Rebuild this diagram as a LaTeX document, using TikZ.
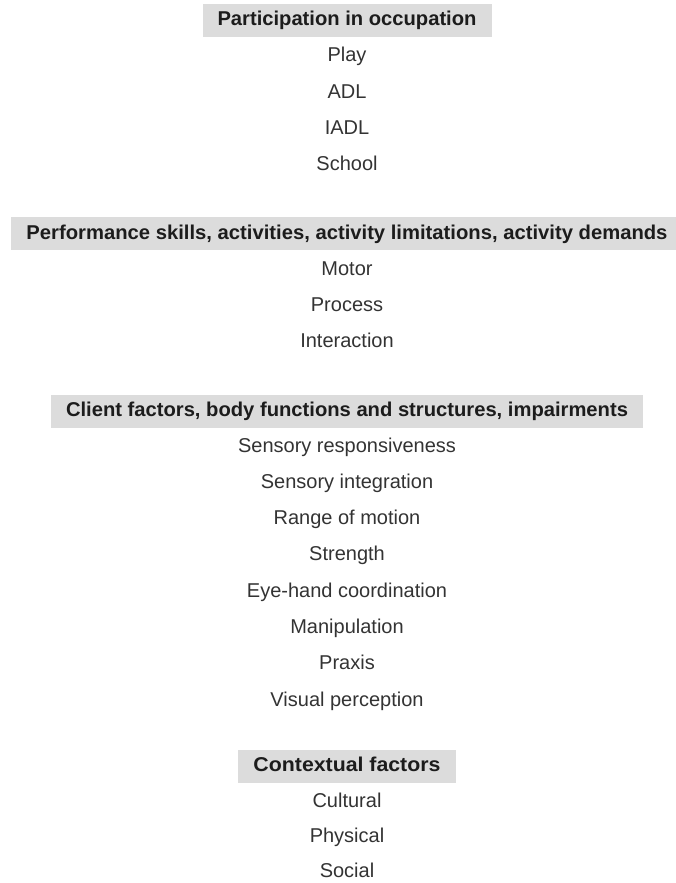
\documentclass[tikz,border=0pt]{standalone}
\usepackage{fontspec}
\setmainfont{Liberation Sans}
\usepackage{graphicx}
\definecolor{headfill}{RGB}{220,220,220}
\definecolor{inktext}{RGB}{28,28,28}
\begin{document}
\begin{tikzpicture}[x=1pt,y=-1pt,
  headbox/.style={fill=headfill, inner xsep=15pt, inner ysep=0pt,
    minimum height=33pt, text height=15pt, text depth=4pt,
    font=\fontsize{20}{24}\selectfont\bfseries, text=inktext},
  itemtext/.style={inner sep=0pt, text height=15pt, text depth=4pt,
    font=\fontsize{20}{24}\selectfont, text=inktext!90!white}]
\useasboundingbox (0,0) rectangle (676,883);

% Participation in occupation
\node[headbox] (h1) at (347,20.5) {\resizebox{259pt}{\height}{Participation in occupation}};
\node[itemtext] (play)   at (347,56.5)  {Play};
\node[itemtext] (adl)    at (347,92.5)  {ADL};
\node[itemtext] (iadl)   at (347,128.5) {IADL};
\node[itemtext] (school) at (347,164.5) {School};

% Performance skills
\node[headbox] (h2) at (347,233.5) {\resizebox{641pt}{\height}{Performance skills, activities, activity limitations, activity demands}};
\node[itemtext] (motor)    at (347,269.5) {Motor};
\node[itemtext] (process)  at (347,305.5) {Process};
\node[itemtext] (interact) at (347,341.5) {Interaction};

% Client factors
\node[headbox] (h3) at (347,411) {\resizebox{562pt}{\height}{Client factors, body functions and structures, impairments}};
\node[itemtext] (sresp)  at (347,446.5) {Sensory responsiveness};
\node[itemtext] (sint)   at (347,482.8) {Sensory integration};
\node[itemtext] (rom)    at (347,519.1) {Range of motion};
\node[itemtext] (str)    at (347,555.4) {Strength};
\node[itemtext] (ehc)    at (347,591.7) {Eye-hand coordination};
\node[itemtext] (manip)  at (347,628.0) {Manipulation};
\node[itemtext] (praxis) at (347,664.3) {Praxis};
\node[itemtext] (visp)   at (347,700.5) {Visual perception};

% Contextual factors
\node[headbox] (h4) at (347,766) {\resizebox{187pt}{\height}{Contextual factors}};
\node[itemtext] (cult) at (347,801.5) {Cultural};
\node[itemtext] (phys) at (347,836.5) {Physical};
\node[itemtext] (soc)  at (347,871.5) {Social};
\end{tikzpicture}
\end{document}
